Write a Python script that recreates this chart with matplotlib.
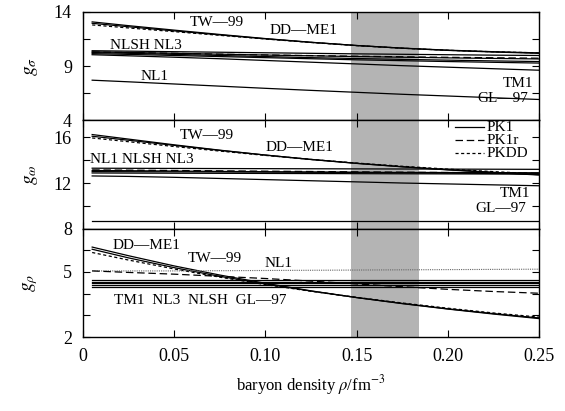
import matplotlib
matplotlib.use("Agg")
import matplotlib.pyplot as plt

plt.rcParams['font.family'] = ['Liberation Serif', 'DejaVu Serif']
plt.rcParams['mathtext.fontset'] = 'stix'

rho = [0.005, 0.025, 0.05, 0.075, 0.10, 0.125, 0.15, 0.175, 0.20, 0.225, 0.25]

# g_sigma
sig_TW99  = [12.95, 12.63, 12.25, 11.88, 11.52, 11.19, 10.90, 10.66, 10.47, 10.33, 10.22]
sig_DDME1 = [13.08, 12.73, 12.32, 11.92, 11.54, 11.20, 10.90, 10.65, 10.45, 10.30, 10.18]
sig_PKDD  = [12.80, 12.52, 12.18, 11.84, 11.50, 11.18, 10.89, 10.65, 10.46, 10.32, 10.22]
sig_NLSH  = [10.42, 10.38, 10.33, 10.28, 10.23, 10.18, 10.13, 10.09, 10.05, 10.01, 9.98]
sig_NL3   = [10.25, 10.18, 10.08, 9.98, 9.88, 9.78, 9.70, 9.62, 9.55, 9.48, 9.42]
sig_PK1   = [10.32, 10.26, 10.18, 10.10, 10.02, 9.95, 9.88, 9.82, 9.76, 9.71, 9.66]
sig_PK1r  = [10.30, 10.25, 10.18, 10.10, 10.03, 9.97, 9.91, 9.86, 9.81, 9.77, 9.73]
sig_TM1   = [10.05, 9.95, 9.82, 9.68, 9.52, 9.36, 9.20, 9.04, 8.90, 8.76, 8.62]
sig_NL1   = [10.15, 10.08, 9.98, 9.88, 9.78, 9.68, 9.58, 9.50, 9.42, 9.35, 9.28]
sig_GL97  = [7.70, 7.55, 7.35, 7.15, 6.95, 6.76, 6.58, 6.40, 6.24, 6.08, 5.92]

# g_omega
om_TW99  = [16.25, 15.85, 15.35, 14.88, 14.45, 14.06, 13.72, 13.42, 13.15, 12.92, 12.70]
om_DDME1 = [16.10, 15.75, 15.30, 14.86, 14.45, 14.07, 13.73, 13.43, 13.17, 12.94, 12.73]
om_PKDD  = [15.95, 15.62, 15.20, 14.80, 14.42, 14.07, 13.75, 13.47, 13.22, 13.00, 12.80]
om_NL1   = [13.30, 13.29, 13.28, 13.27, 13.26, 13.25, 13.24, 13.23, 13.22, 13.21, 13.20]
om_NLSH  = [13.00, 12.99, 12.98, 12.97, 12.96, 12.95, 12.94, 12.93, 12.92, 12.91, 12.90]
om_NL3   = [12.88, 12.87, 12.86, 12.85, 12.84, 12.83, 12.82, 12.81, 12.80, 12.79, 12.78]
om_PK1   = [13.10, 13.08, 13.05, 13.02, 12.99, 12.96, 12.93, 12.90, 12.87, 12.84, 12.81]
om_PK1r  = [13.15, 13.13, 13.10, 13.07, 13.04, 13.01, 12.98, 12.95, 12.92, 12.89, 12.86]
om_TM1   = [12.62, 12.58, 12.50, 12.40, 12.30, 12.20, 12.10, 12.00, 11.92, 11.84, 11.76]
om_GL97  = [8.70, 8.70, 8.70, 8.70, 8.70, 8.70, 8.70, 8.70, 8.70, 8.70, 8.70]

# g_rho
rh_TW99  = [6.05, 5.65, 5.20, 4.80, 4.45, 4.12, 3.82, 3.55, 3.30, 3.08, 2.88]
rh_DDME1 = [6.15, 5.75, 5.28, 4.86, 4.48, 4.13, 3.82, 3.54, 3.29, 3.06, 2.85]
rh_PKDD  = [5.90, 5.55, 5.14, 4.76, 4.42, 4.11, 3.83, 3.57, 3.33, 3.11, 2.92]
rh_PK1r  = [5.05, 4.98, 4.90, 4.80, 4.70, 4.58, 4.45, 4.32, 4.20, 4.10, 4.02]
rh_NL1   = [5.05, 5.05, 5.05, 5.06, 5.07, 5.08, 5.09, 5.10, 5.11, 5.12, 5.13]
rh_NLSH  = [4.38, 4.38, 4.38, 4.38, 4.38, 4.38, 4.38, 4.38, 4.38, 4.38, 4.38]
rh_NL3   = [4.47, 4.47, 4.47, 4.47, 4.47, 4.47, 4.47, 4.47, 4.47, 4.47, 4.47]
rh_PK1   = [4.55, 4.55, 4.55, 4.55, 4.55, 4.55, 4.55, 4.55, 4.55, 4.55, 4.55]
rh_TM1   = [4.63, 4.63, 4.63, 4.63, 4.63, 4.63, 4.63, 4.63, 4.63, 4.63, 4.63]
rh_GL97  = [4.30, 4.30, 4.30, 4.30, 4.30, 4.30, 4.30, 4.30, 4.30, 4.30, 4.30]

xticks = [0, 0.05, 0.10, 0.15, 0.20, 0.25]
xticklabels = ['0', '0.05', '0.10', '0.15', '0.20', '0.25']
band = (0.147, 0.184)

fig = plt.figure(figsize=(5.65, 4.11), dpi=100)
gs = fig.add_gridspec(3, 1, left=0.147, right=0.954, top=0.971, bottom=0.18, hspace=0)
axs = [fig.add_subplot(gs[i]) for i in range(3)]

solid = dict(color='black', lw=0.9, ls='-')
dashed = dict(color='black', lw=0.9, ls=(0, (6, 3)))
sdash = dict(color='black', lw=0.9, ls=(0, (2.5, 2)))
dotted = dict(color='#666666', lw=0.8, ls=(0, (1, 1)))

def draw(ax, series):
    ax.axvspan(band[0], band[1], color='#b4b4b4', lw=0, zorder=0)
    for vals, st in series:
        ax.plot(rho, vals, **st)

draw(axs[0], [(sig_TW99, solid), (sig_DDME1, solid), (sig_PKDD, sdash), (sig_NLSH, solid),
              (sig_NL3, solid), (sig_PK1, solid), (sig_PK1r, dashed), (sig_TM1, solid),
              (sig_NL1, solid), (sig_GL97, solid)])
draw(axs[1], [(om_TW99, solid), (om_DDME1, solid), (om_PKDD, sdash), (om_NL1, solid),
              (om_NLSH, solid), (om_NL3, solid), (om_PK1, solid), (om_PK1r, dashed),
              (om_TM1, solid), (om_GL97, solid)])
draw(axs[2], [(rh_TW99, solid), (rh_DDME1, solid), (rh_PKDD, sdash), (rh_NL1, dotted),
              (rh_NLSH, solid), (rh_NL3, solid), (rh_PK1, solid), (rh_PK1r, dashed),
              (rh_TM1, solid), (rh_GL97, solid)])

ylims = [(4, 14), (8, 17.5), (2, 7)]
yticks = [[4, 6.5, 9, 11.5, 14], [8, 10, 12, 14, 16], [2, 3, 4, 5, 6]]
ylabs = [['4', '', '9', '', '14'], ['8', '', '12', '', '16'], ['2', '', '', '5', '']]
names = [r'$g_\sigma$', r'$g_\omega$', r'$g_\rho$']

for i, ax in enumerate(axs):
    ax.set_xlim(0, 0.25)
    ax.set_ylim(*ylims[i])
    ax.set_yticks(yticks[i])
    ax.set_yticklabels(ylabs[i])
    ax.set_xticks(xticks)
    ax.tick_params(direction='in', top=True, right=True, length=5, width=0.8, labelsize=13, pad=8)
    for s in ax.spines.values():
        s.set_linewidth(1.0)
    if i < 2:
        ax.set_xticklabels([])
    else:
        ax.set_xticklabels(xticklabels)
    ax.set_ylabel(names[i], fontsize=14, labelpad=10)

fig.align_ylabels(axs)
axs[2].set_xlabel(r'baryon density $\rho$/fm$^{-3}$', fontsize=12, labelpad=6)

fs = 11
a = axs[0]
a.text(0.0735, 13.05, 'TW—99', ha='center', va='center', fontsize=fs)
a.text(0.1206, 12.3, 'DD—ME1', ha='center', va='center', fontsize=fs)
a.text(0.0345, 10.9, 'NLSH NL3', ha='center', va='center', fontsize=fs)
a.text(0.039, 8.0, 'NL1', ha='center', va='center', fontsize=fs)
a.text(0.2385, 7.4, 'TM1', ha='center', va='center', fontsize=fs)
a.text(0.230, 6.0, 'GL—97', ha='center', va='center', fontsize=fs)

a = axs[1]
a.text(0.068, 16.2, 'TW—99', ha='center', va='center', fontsize=fs)
a.text(0.1184, 15.15, 'DD—ME1', ha='center', va='center', fontsize=fs)
a.text(0.032, 14.1, 'NL1 NLSH NL3', ha='center', va='center', fontsize=fs)
a.text(0.237, 11.05, 'TM1', ha='center', va='center', fontsize=fs)
a.text(0.229, 9.8, 'GL—97', ha='center', va='center', fontsize=fs)
leg_items = [('PK1', solid), ('PK1r', dashed), ('PKDD', sdash)]
for k, (lab, st) in enumerate(leg_items):
    yy = 16.9 - k * 1.15
    a.plot([0.204, 0.220], [yy, yy], **st)
    a.text(0.2215, yy, lab, ha='left', va='center', fontsize=fs)

a = axs[2]
a.text(0.035, 6.2, 'DD—ME1', ha='center', va='center', fontsize=fs)
a.text(0.072, 5.6, 'TW—99', ha='center', va='center', fontsize=fs)
a.text(0.107, 5.4, 'NL1', ha='center', va='center', fontsize=fs)
a.text(0.064, 3.7, 'TM1  NL3  NLSH  GL—97', ha='center', va='center', fontsize=fs)

fig.savefig('out.png', dpi=100)
